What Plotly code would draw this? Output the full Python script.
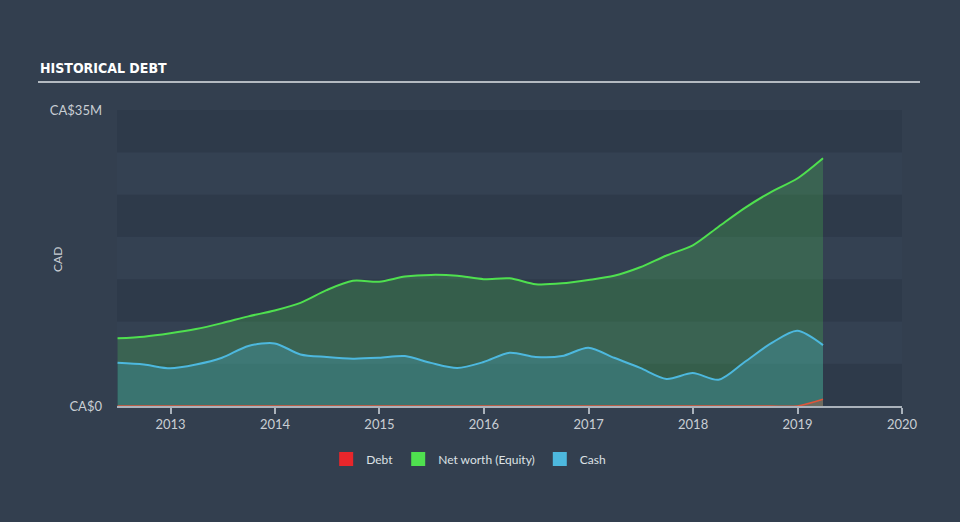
import plotly.graph_objects as go

dates = ["2012-06-30", "2012-09-30", "2012-12-31", "2013-03-31", "2013-06-30", "2013-09-30",
         "2013-12-31", "2014-03-31", "2014-06-30", "2014-09-30", "2014-12-31", "2015-03-31",
         "2015-06-30", "2015-09-30", "2015-12-31", "2016-03-31", "2016-06-30", "2016-09-30",
         "2016-12-31", "2017-03-31", "2017-06-30", "2017-09-30", "2017-12-31", "2018-03-31",
         "2018-06-30", "2018-09-30", "2018-12-31", "2019-03-31"]
net_worth = [8.0, 8.2, 8.6, 9.1, 9.8, 10.6, 11.3, 12.2, 13.7, 14.8, 14.7, 15.3,
             15.5, 15.4, 15.0, 15.1, 14.4, 14.5, 14.9, 15.4, 16.4, 17.8, 19.0, 21.2,
             23.4, 25.3, 26.9, 29.3]
cash = [5.1, 4.9, 4.45, 4.9, 5.7, 7.1, 7.4, 6.1, 5.8, 5.6, 5.7, 5.9,
        5.1, 4.5, 5.2, 6.3, 5.8, 5.9, 6.9, 5.7, 4.5, 3.2, 3.9, 3.1,
        5.2, 7.4, 8.9, 7.2]
debt = [0] * 27 + [0.8]

year_ticks = ["2013-01-01", "2014-01-01", "2015-01-01", "2016-01-01", "2017-01-01",
              "2018-01-01", "2019-01-01", "2020-01-01"]
year_labels = ["2013", "2014", "2015", "2016", "2017", "2018", "2019", "2020"]
y_ticks = [0, 35]
y_labels = ["CA$0", "CA$35M"]
band_edges = [0, 5, 10, 15, 20, 25, 30, 35]

BG = "#333f4f"
DARK_BAND = "#2e3a4a"
LIGHT_BAND = "#344152"
TEXT = "#c9ced4"
FONT = "Lato"

fig = go.Figure()

fig.add_trace(go.Scatter(
    x=dates, y=net_worth, mode="lines", line=dict(color="#4fe04f", width=2, shape="spline", smoothing=0.8),
    fill="tozeroy", fillcolor="rgba(80,225,80,0.22)", showlegend=False, hoverinfo="skip"))
fig.add_trace(go.Scatter(
    x=dates, y=cash, mode="lines", line=dict(color="#4db8de", width=2, shape="spline", smoothing=0.8),
    fill="tozeroy", fillcolor="rgba(77,184,222,0.25)", showlegend=False, hoverinfo="skip"))
fig.add_trace(go.Scatter(
    x=dates, y=debt, mode="lines", line=dict(color="#e0553a", width=1.5, shape="spline", smoothing=0.8),
    fill="tozeroy", fillcolor="rgba(224,85,58,0.3)", showlegend=False, hoverinfo="skip"))

for name, col in [("Debt", "#e8262b"), ("Net worth (Equity)", "#4fe04f"), ("Cash", "#4db8de")]:
    fig.add_trace(go.Scatter(x=[None], y=[None], mode="markers", name=name,
                             marker=dict(symbol="square", size=14, color=col)))

shapes = []
for i in range(len(band_edges) - 1):
    shapes.append(dict(type="rect", xref="paper", yref="y", x0=0, x1=1,
                       y0=band_edges[i], y1=band_edges[i + 1], line=dict(width=0),
                       fillcolor=DARK_BAND if i % 2 == 0 else LIGHT_BAND, layer="below"))
# title underline
shapes.append(dict(type="line", xref="paper", yref="paper",
                   x0=(38 - 117) / 785, x1=(920 - 117) / 785,
                   y0=1 + (110 - 82) / 296, y1=1 + (110 - 82) / 296,
                   line=dict(color="#b4bac1", width=2)))

fig.update_layout(
    width=960, height=522,
    margin=dict(l=117, r=58, t=110, b=116),
    paper_bgcolor=BG, plot_bgcolor=BG,
    font=dict(family=FONT, color=TEXT, size=12),
    shapes=shapes,
    showlegend=True,
    legend=dict(orientation="h", x=0.448, xanchor="center", y=-0.13, yanchor="top",
                font=dict(family=FONT, size=12, color="#dde1e5"), bgcolor="rgba(0,0,0,0)",
                itemwidth=30),
    annotations=[
        dict(text="<b>HISTORICAL DEBT</b>", xref="paper", yref="paper",
             x=(38 - 117) / 785, y=1 + (110 - 68) / 296, xanchor="left", yanchor="middle",
             showarrow=False, font=dict(family="DejaVu Sans Condensed, DejaVu Sans", size=14, color="#ffffff")),
        dict(text="CAD", xref="paper", yref="paper", x=(57 - 117) / 785, y=(406 - 260) / 296,
             xanchor="center", yanchor="middle", textangle=-90, showarrow=False,
             font=dict(family=FONT, size=12, color=TEXT)),
    ],
)

fig.update_xaxes(
    type="date", range=["2012-06-28", "2020-01-01"],
    tickvals=year_ticks, ticktext=year_labels,
    showgrid=False, zeroline=False,
    showline=True, linecolor="#aab2bb", linewidth=1.5,
    ticks="outside", ticklen=6, tickcolor="#aab2bb", tickwidth=1.5,
    tickfont=dict(family=FONT, size=13, color=TEXT),
)
fig.update_yaxes(
    range=[0, 35], tickvals=y_ticks, ticktext=y_labels,
    showgrid=False, zeroline=False, showline=False, ticks="",
    ticklabelstandoff=14,
    tickfont=dict(family=FONT, size=13, color=TEXT),
)

fig.write_html("out.html")
